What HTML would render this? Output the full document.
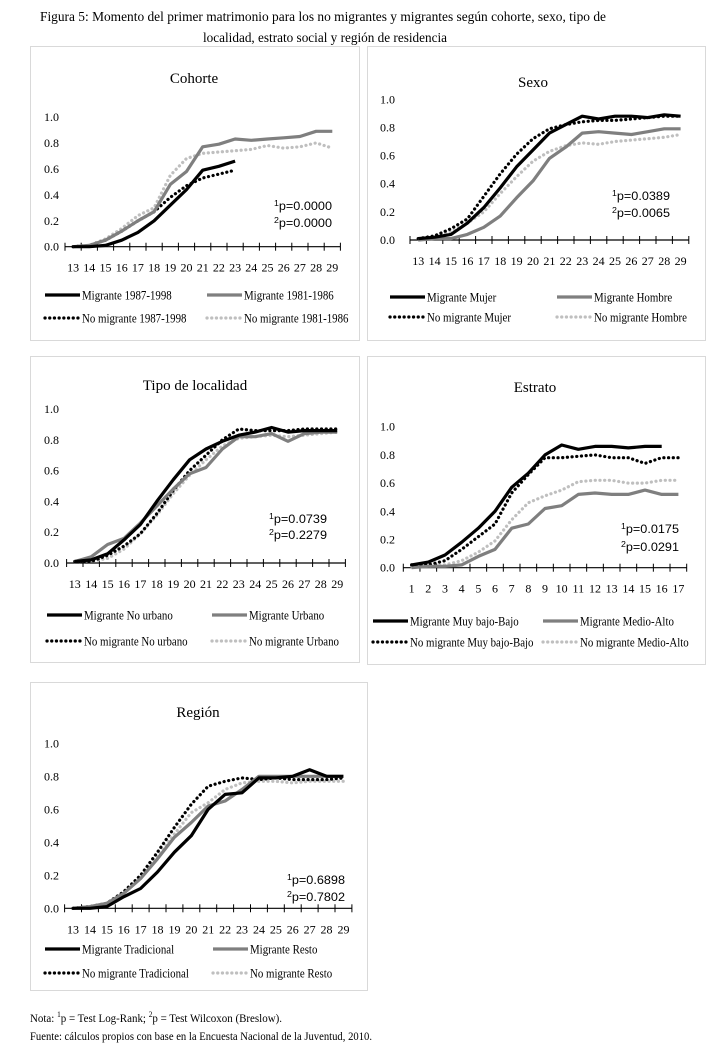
<!DOCTYPE html>
<html><head><meta charset="utf-8"><style>
html,body{margin:0;padding:0;background:#fff;}
svg{display:block;font-family:"Liberation Serif",serif;}
</style></head><body>
<svg id="fig" width="712" height="1049" viewBox="0 0 712 1049" xmlns="http://www.w3.org/2000/svg">
<text x="40" y="21" font-size="14" textLength="566" lengthAdjust="spacingAndGlyphs">Figura 5: Momento del primer matrimonio para los no migrantes y migrantes según cohorte, sexo, tipo de</text>
<text x="203" y="42" font-size="14" textLength="244" lengthAdjust="spacingAndGlyphs">localidad, estrato social y región de residencia</text>
<text x="30" y="1022" font-size="12" textLength="252" lengthAdjust="spacingAndGlyphs">Nota: <tspan font-size="8" dy="-5">1</tspan><tspan dy="5">p = Test Log-Rank; </tspan><tspan font-size="8" dy="-5">2</tspan><tspan dy="5">p = Test Wilcoxon (Breslow).</tspan></text>
<text x="30" y="1040" font-size="12" textLength="342" lengthAdjust="spacingAndGlyphs">Fuente: cálculos propios con base en la Encuesta Nacional de la Juventud, 2010.</text>
</svg>
<script>
// ---- data: Cohorte ----
const cohorteCats = [13,14,15,16,17,18,19,20,21,22,23,24,25,26,27,28,29];
const cohorteMig8798 = [0,0,0.01,0.05,0.11,0.2,0.32,0.44,0.59,0.62,0.66];
const cohorteMig8186 = [0,0.01,0.05,0.12,0.2,0.27,0.48,0.58,0.77,0.79,0.83,0.82,0.83,0.84,0.85,0.89,0.89];
const cohorteNoMig8798 = [0,0.01,0.05,0.12,0.2,0.27,0.38,0.47,0.53,0.56,0.59];
const cohorteNoMig8186 = [0,0.01,0.06,0.14,0.24,0.3,0.55,0.68,0.72,0.73,0.74,0.75,0.78,0.76,0.77,0.8,0.76];
// ---- data: Sexo ----
const sexoCats = [13,14,15,16,17,18,19,20,21,22,23,24,25,26,27,28,29];
const sexoMigMujer = [0.01,0.02,0.04,0.12,0.23,0.37,0.52,0.64,0.76,0.82,0.88,0.86,0.88,0.88,0.87,0.89,0.88];
const sexoMigHombre = [0,0.01,0.01,0.04,0.09,0.17,0.3,0.42,0.58,0.66,0.76,0.77,0.76,0.75,0.77,0.79,0.79];
const sexoNoMigMujer = [0.01,0.03,0.08,0.15,0.31,0.47,0.61,0.72,0.79,0.82,0.84,0.85,0.85,0.86,0.87,0.88,0.88];
const sexoNoMigHombre = [0.01,0.02,0.06,0.12,0.2,0.33,0.45,0.56,0.63,0.67,0.69,0.68,0.7,0.71,0.72,0.73,0.75];
// ---- data: Tipo de localidad ----
const locCats = [13,14,15,16,17,18,19,20,21,22,23,24,25,26,27,28,29];
const locMigNoUrb = [0.01,0.02,0.06,0.15,0.25,0.4,0.54,0.67,0.74,0.79,0.83,0.85,0.88,0.85,0.86,0.86,0.86];
const locMigUrb = [0.01,0.04,0.12,0.16,0.26,0.37,0.48,0.58,0.62,0.74,0.82,0.82,0.84,0.79,0.84,0.85,0.85];
const locNoMigNoUrb = [0.01,0.01,0.05,0.11,0.19,0.32,0.47,0.6,0.7,0.8,0.87,0.86,0.86,0.86,0.87,0.87,0.87];
const locNoMigUrb = [0.01,0.01,0.03,0.09,0.19,0.31,0.45,0.57,0.67,0.76,0.81,0.82,0.83,0.82,0.83,0.84,0.85];
// ---- data: Estrato ----
const estCats = [1,2,3,4,5,6,7,8,9,10,11,12,13,14,15,16,17];
const estMigBajo = [0.02,0.04,0.09,0.18,0.28,0.4,0.57,0.67,0.8,0.87,0.84,0.86,0.86,0.85,0.86,0.86];
const estMigAlto = [0,0.01,0.01,0.02,0.08,0.13,0.28,0.31,0.42,0.44,0.52,0.53,0.52,0.52,0.55,0.52,0.52];
const estNoMigBajo = [0.02,0.02,0.05,0.13,0.22,0.31,0.53,0.66,0.78,0.78,0.79,0.8,0.78,0.78,0.74,0.78,0.78];
const estNoMigAlto = [0.01,0.01,0.02,0.05,0.11,0.19,0.34,0.46,0.51,0.55,0.61,0.62,0.62,0.6,0.6,0.62,0.62];
// ---- data: Región ----
const regCats = [13,14,15,16,17,18,19,20,21,22,23,24,25,26,27,28,29];
const regMigTrad = [0,0,0.01,0.07,0.12,0.22,0.34,0.44,0.6,0.69,0.7,0.79,0.79,0.8,0.84,0.8,0.8];
const regMigResto = [0,0.01,0.03,0.09,0.18,0.3,0.43,0.52,0.62,0.65,0.72,0.8,0.8,0.8,0.8,0.8,0.8];
const regNoMigTrad = [0,0.01,0.03,0.1,0.2,0.34,0.49,0.63,0.74,0.77,0.79,0.78,0.79,0.78,0.78,0.78,0.79];
const regNoMigResto = [0,0.01,0.03,0.1,0.19,0.31,0.45,0.58,0.64,0.72,0.76,0.77,0.77,0.76,0.77,0.77,0.77];
const yTicks = [0,0.2,0.4,0.6,0.8,1.0];

const NS = "http://www.w3.org/2000/svg";
const svg = document.getElementById('fig');
function mk(tag, attrs, parent) {
  const e = document.createElementNS(NS, tag);
  for (const k in attrs) e.setAttribute(k, attrs[k]);
  (parent || svg).appendChild(e);
  return e;
}
const STY = {
  mig1: {stroke:'#000', dash:null},
  mig2: {stroke:'#7f7f7f', dash:null},
  nom1: {stroke:'#000', dash:'0.1 4.6'},
  nom2: {stroke:'#bfbfbf', dash:'0.1 4.6'}
};
function lineAttrs(st, a) {
  a.stroke = st.stroke; a['stroke-width'] = 3.2; a.fill = 'none'; a['stroke-linejoin'] = 'round';
  if (st.dash) { a['stroke-dasharray'] = st.dash; a['stroke-linecap'] = 'round'; }
  return a;
}
function panel(p) {
  const g = mk('g', {});
  
  
  const box = mk('rect', {x:p.box[0]+0.5, y:p.box[1]+0.5, width:p.box[2], height:p.box[3], fill:'#fff', stroke:'#d9d9d9', 'stroke-width':1}, g);
  
  
  const t = mk('text', {x:p.titleX, y:p.titleY, 'font-size':15, 'text-anchor':'middle'}, g);
  t.textContent = p.title;
  
  
  const n = p.cats.length;
  const xs = i => p.x0 + p.step * (i + 0.5);
  const ys = v => p.y0 - v * (p.y0 - p.y1);
  yTicks.forEach(v => {
    const l = mk('text', {x:p.yLabX, y:ys(v) + 4, 'font-size':12, 'text-anchor':'end'}, g);
    l.textContent = v.toFixed(1);
    
    
  });
  const ax = mk('line', {x1:p.x0, x2:p.x0 + p.step * n, y1:p.y0, y2:p.y0, stroke:'#000', 'stroke-width':1.2}, g);
  
  
  for (let i = 0; i <= n; i++) {
    const x = p.x0 + p.step * i;
    const tk = mk('line', {x1:x, x2:x, y1:p.y0 - 4, y2:p.y0 + 4, stroke:'#000', 'stroke-width':1}, g);
    
    
  }
  p.cats.forEach((c, i) => {
    const l = mk('text', {x:xs(i), y:p.y0 + 25, 'font-size':12, 'text-anchor':'middle'}, g);
    l.textContent = c;
    
    
  });
  // lines: draw light series first
  [3, 2, 1, 0].forEach(k => {
    const s = p.series[k];
    const pts = s.data.map((v, i) => xs(i).toFixed(1) + ',' + ys(v).toFixed(1)).join(' ');
    const pl = mk('polyline', lineAttrs(STY[s.style], {points:pts}), g);
    
    
  });
  const pv1 = mk('text', {x:p.pX, y:p.pY, 'font-size':11.5, 'text-anchor':'end', 'font-family':'Liberation Sans, sans-serif', textLength:58, lengthAdjust:'spacingAndGlyphs'}, g);
  pv1.innerHTML = '<tspan font-size="8" dy="-4">1</tspan><tspan dy="4">p=' + p.p1 + '</tspan>';
  
  
  const pv2 = mk('text', {x:p.pX, y:p.pY + p.pGap, 'font-size':11.5, 'text-anchor':'end', 'font-family':'Liberation Sans, sans-serif', textLength:58, lengthAdjust:'spacingAndGlyphs'}, g);
  pv2.innerHTML = '<tspan font-size="8" dy="-4">2</tspan><tspan dy="4">p=' + p.p2 + '</tspan>';
  
  
  const legPos = [[p.lx1, p.ly1], [p.lx2, p.ly1], [p.lx1, p.ly2], [p.lx2, p.ly2]];
  p.series.forEach((s, k) => {
    const [lx, ly] = legPos[k];
    const ll = mk('line', lineAttrs(STY[s.style], {x1:lx, x2:lx + 35, y1:ly, y2:ly}), g);
    
    
    const lt = mk('text', {x:lx + 37, y:ly + 4.5, 'font-size':12.5}, g);
    lt.textContent = s.label;
    
    
    const w = lt.getComputedTextLength();
    if (w > 0) { lt.setAttribute('textLength', (w * 0.87).toFixed(1)); lt.setAttribute('lengthAdjust', 'spacingAndGlyphs'); }
  });
}
panel({name:'cohorte', title:'Cohorte', box:[30,46,329,294], titleX:194, titleY:83,
  cats:cohorteCats, x0:65, step:16.2, y0:246.7, y1:117, yLabX:59,
  p1:'0.0000', p2:'0.0000', pX:332, pY:210, pGap:17,
  lx1:45, lx2:207, ly1:295, ly2:318,
  series:[
    {key:'migrante-1987-1998', style:'mig1', label:'Migrante 1987-1998', data:cohorteMig8798},
    {key:'migrante-1981-1986', style:'mig2', label:'Migrante 1981-1986', data:cohorteMig8186},
    {key:'no-migrante-1987-1998', style:'nom1', label:'No migrante 1987-1998', data:cohorteNoMig8798},
    {key:'no-migrante-1981-1986', style:'nom2', label:'No migrante 1981-1986', data:cohorteNoMig8186}
  ]});
panel({name:'sexo', title:'Sexo', box:[367,46,338,294], titleX:533, titleY:87,
  cats:sexoCats, x0:410, step:16.4, y0:240, y1:99.3, yLabX:395,
  p1:'0.0389', p2:'0.0065', pX:670, pY:200, pGap:17,
  lx1:390, lx2:557, ly1:297, ly2:317,
  series:[
    {key:'migrante-mujer', style:'mig1', label:'Migrante Mujer', data:sexoMigMujer},
    {key:'migrante-hombre', style:'mig2', label:'Migrante Hombre', data:sexoMigHombre},
    {key:'no-migrante-mujer', style:'nom1', label:'No migrante Mujer', data:sexoNoMigMujer},
    {key:'no-migrante-hombre', style:'nom2', label:'No migrante Hombre', data:sexoNoMigHombre}
  ]});
panel({name:'tipo-de-localidad', title:'Tipo de localidad', box:[30,356,329,306], titleX:195, titleY:390,
  cats:locCats, x0:66.6, step:16.4, y0:563, y1:409, yLabX:59,
  p1:'0.0739', p2:'0.2279', pX:327, pY:523, pGap:16,
  lx1:47, lx2:212, ly1:615, ly2:641,
  series:[
    {key:'migrante-no-urbano', style:'mig1', label:'Migrante No urbano', data:locMigNoUrb},
    {key:'migrante-urbano', style:'mig2', label:'Migrante Urbano', data:locMigUrb},
    {key:'no-migrante-no-urbano', style:'nom1', label:'No migrante No urbano', data:locNoMigNoUrb},
    {key:'no-migrante-urbano', style:'nom2', label:'No migrante Urbano', data:locNoMigUrb}
  ]});
panel({name:'estrato', title:'Estrato', box:[367,356,338,308], titleX:535, titleY:392,
  cats:estCats, x0:403.3, step:16.67, y0:567.7, y1:426.7, yLabX:395,
  p1:'0.0175', p2:'0.0291', pX:679, pY:533, pGap:18,
  lx1:373, lx2:543, ly1:621, ly2:642,
  series:[
    {key:'migrante-muy-bajo-bajo', style:'mig1', label:'Migrante Muy bajo-Bajo', data:estMigBajo},
    {key:'migrante-medio-alto', style:'mig2', label:'Migrante Medio-Alto', data:estMigAlto},
    {key:'no-migrante-muy-bajo-bajo', style:'nom1', label:'No migrante Muy bajo-Bajo', data:estNoMigBajo},
    {key:'no-migrante-medio-alto', style:'nom2', label:'No migrante Medio-Alto', data:estNoMigAlto}
  ]});
panel({name:'region', title:'Región', box:[30,682,337,308], titleX:198, titleY:717,
  cats:regCats, x0:64.6, step:16.9, y0:908.3, y1:743.3, yLabX:59,
  p1:'0.6898', p2:'0.7802', pX:345, pY:884, pGap:17,
  lx1:45, lx2:213, ly1:949, ly2:973,
  series:[
    {key:'migrante-tradicional', style:'mig1', label:'Migrante Tradicional', data:regMigTrad},
    {key:'migrante-resto', style:'mig2', label:'Migrante Resto', data:regMigResto},
    {key:'no-migrante-tradicional', style:'nom1', label:'No migrante Tradicional', data:regNoMigTrad},
    {key:'no-migrante-resto', style:'nom2', label:'No migrante Resto', data:regNoMigResto}
  ]});
</script>
</body></html>
